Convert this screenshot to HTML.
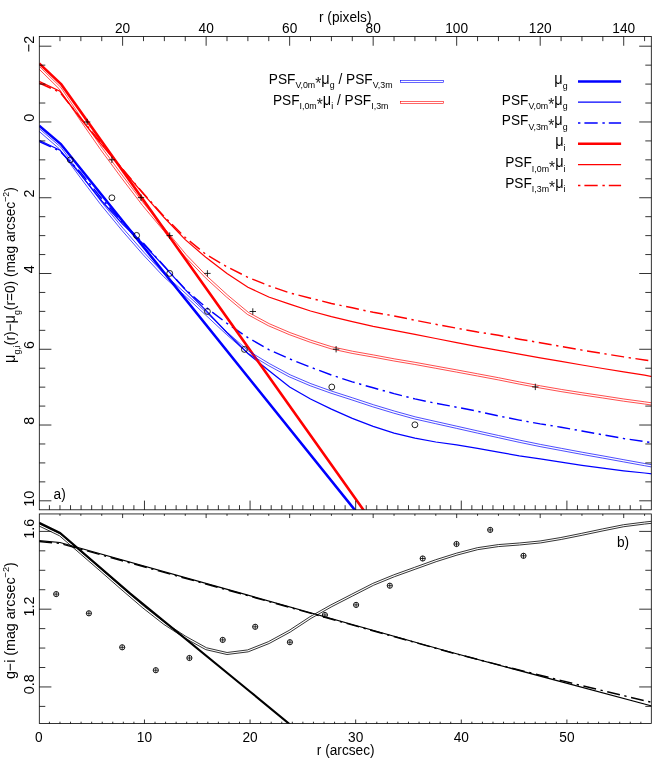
<!DOCTYPE html>
<html><head><meta charset="utf-8"><title>chart</title><style>html,body{margin:0;padding:0;background:#fff}svg{display:block;will-change:transform}</style></head><body>
<svg width="654" height="762" viewBox="0 0 654 762">
<rect width="654" height="762" fill="#fff"/>
<defs><clipPath id="c1"><rect x="39.3" y="36.55" width="612.0" height="473.25"/></clipPath><clipPath id="c2"><rect x="39.3" y="513.95" width="612.0" height="209.64999999999998"/></clipPath></defs>
<g clip-path="url(#c1)">
<path d="M39.20,125.70 L60.80,144.05 L362.00,518.89" fill="none" stroke="#0000ff" stroke-width="2.6" />
<path d="M39.10,140.20 L59.98,150.20 L80.86,174.80 L101.74,201.00 L122.62,224.10 L143.50,244.20 L164.37,266.60 L185.25,289.60 L206.13,310.60 L227.01,332.80 L247.89,353.50 L268.77,370.60 L289.65,387.00 L310.53,399.00 L331.41,409.10 L352.29,418.40 L373.16,426.40 L394.04,433.10 L414.92,438.10 L435.80,442.00 L456.68,444.80 L477.56,448.40 L498.44,452.10 L519.32,455.80 L540.20,458.90 L561.08,462.20 L581.95,465.40 L602.83,468.20 L623.71,470.80 L644.59,473.00 L665.47,475.50" fill="none" stroke="#0000ff" stroke-width="1.25" />
<path d="M39.10,141.40 L59.98,151.10 L80.86,172.80 L101.74,198.70 L122.62,222.40 L143.50,243.30 L164.37,266.30 L185.25,289.30 L206.13,307.50 L227.01,323.40 L247.89,337.60 L268.77,349.60 L289.65,358.90 L310.53,367.20 L331.41,375.00 L352.29,381.90 L373.16,387.80 L394.04,393.60 L414.92,398.90 L435.80,403.30 L456.68,407.20 L477.56,411.30 L498.44,415.90 L519.32,420.10 L540.20,423.90 L561.08,427.20 L581.95,431.00 L602.83,434.80 L623.71,438.50 L644.59,441.60 L665.47,444.60" fill="none" stroke="#0000ff" stroke-width="1.45" stroke-dasharray="13 4.6 2.3 4.6" />
<path d="M39.20,63.40 L61.30,84.40 L370.00,519.14" fill="none" stroke="#ff0000" stroke-width="2.6" />
<path d="M39.10,81.40 L59.98,91.30 L80.86,119.00 L101.74,144.80 L122.62,169.50 L143.50,194.10 L164.37,217.80 L185.25,239.60 L206.13,257.60 L227.01,273.40 L247.89,287.20 L268.77,297.00 L289.65,304.20 L310.53,311.00 L331.41,316.70 L352.29,321.70 L373.16,326.30 L394.04,330.40 L414.92,334.40 L435.80,338.50 L456.68,342.70 L477.56,346.60 L498.44,350.30 L519.32,354.20 L540.20,357.90 L561.08,361.40 L581.95,365.00 L602.83,368.50 L623.71,371.90 L644.59,375.20 L665.47,379.00" fill="none" stroke="#ff0000" stroke-width="1.25" />
<path d="M39.10,82.90 L59.98,92.40 L80.86,118.30 L101.74,143.70 L122.62,169.10 L143.50,193.50 L164.37,216.70 L185.25,237.50 L206.13,254.50 L227.01,266.80 L247.89,277.30 L268.77,285.70 L289.65,292.90 L310.53,298.20 L331.41,303.50 L352.29,307.80 L373.16,312.30 L394.04,315.90 L414.92,320.20 L435.80,324.30 L456.68,328.20 L477.56,332.00 L498.44,335.30 L519.32,339.20 L540.20,342.70 L561.08,346.40 L581.95,350.10 L602.83,353.50 L623.71,356.90 L644.59,360.00 L665.47,363.00" fill="none" stroke="#ff0000" stroke-width="1.45" stroke-dasharray="13 4.6 2.3 4.6" />
<path d="M38.38,130.73 L59.16,148.63 L79.98,177.16 L100.87,204.78 L121.78,230.21 L142.68,254.24 L163.60,276.58 L184.51,295.31 L205.38,314.80 L226.27,334.31 L247.23,352.78 L268.22,365.45 L289.17,376.79 L310.12,385.72 L331.05,393.24 L351.94,399.95 L372.83,406.85 L393.74,413.16 L414.65,418.97 L435.56,423.67 L456.44,428.37 L477.32,433.07 L498.20,437.67 L519.09,442.28 L539.98,446.58 L560.87,450.48 L581.76,454.38 L602.64,458.08 L623.52,461.88 L644.40,465.68 L665.28,469.38" fill="none" stroke="#0000ff" stroke-width="0.7" />
<path d="M39.82,129.07 L60.80,147.17 L81.74,175.84 L102.60,203.42 L123.46,228.79 L144.31,252.76 L165.14,275.02 L186.00,293.69 L206.88,313.20 L227.75,332.69 L248.55,351.02 L269.32,363.55 L290.13,374.81 L310.93,383.68 L331.76,391.16 L352.63,397.85 L373.50,404.75 L394.35,411.04 L415.19,416.83 L436.04,421.53 L456.92,426.23 L477.80,430.93 L498.67,435.53 L519.55,440.12 L540.41,444.42 L561.28,448.32 L582.15,452.22 L603.03,455.92 L623.91,459.72 L644.79,463.52 L665.66,467.22" fill="none" stroke="#0000ff" stroke-width="0.7" />
<path d="M38.33,68.38 L59.12,88.79 L79.95,119.92 L100.84,149.94 L121.74,178.26 L142.64,205.59 L163.53,230.60 L184.43,256.03 L205.36,277.69 L226.29,296.83 L247.27,314.31 L268.29,325.69 L289.24,334.62 L310.17,342.24 L331.12,348.86 L352.07,353.38 L372.97,357.08 L393.85,360.98 L414.73,364.48 L435.60,368.28 L456.48,372.08 L477.36,375.98 L498.23,379.88 L519.11,384.08 L540.00,387.98 L560.90,391.59 L581.79,394.89 L602.67,397.99 L623.56,401.19 L644.44,403.99 L665.31,407.09" fill="none" stroke="#ff0000" stroke-width="0.7" />
<path d="M39.87,66.82 L60.83,87.41 L81.77,118.68 L102.63,148.66 L123.50,176.94 L144.35,204.21 L165.22,229.20 L186.08,254.57 L206.90,276.11 L227.73,295.17 L248.51,312.49 L269.25,323.71 L290.05,332.58 L310.88,340.16 L331.69,346.74 L352.50,351.22 L373.36,354.92 L394.23,358.82 L415.11,362.32 L436.00,366.12 L456.88,369.92 L477.76,373.82 L498.65,377.72 L519.53,381.92 L540.39,385.82 L561.25,389.41 L582.12,392.71 L603.00,395.81 L623.87,399.01 L644.74,401.81 L665.63,404.91" fill="none" stroke="#ff0000" stroke-width="0.7" />
</g>
<g clip-path="url(#c2)">
<path d="M39.10,522.80 L60.00,533.00 L130.30,593.60 L250.20,691.70 L288.90,723.60 L295.00,728.60" fill="none" stroke="#000" stroke-width="2.1" />
<path d="M39.10,540.60 L60.00,542.50 L230.00,590.10 L450.00,652.00 L651.80,706.00" fill="none" stroke="#000" stroke-width="1.25" />
<path d="M39.10,541.50 L60.00,543.40 L230.00,590.70 L450.00,652.30 L510.00,667.70 L580.00,685.20 L651.80,702.40" fill="none" stroke="#000" stroke-width="1.45" stroke-dasharray="13 4.6 2.3 4.6" />
<path d="M38.67,525.80 L59.42,535.72 L80.20,553.68 L101.08,571.77 L121.96,590.06 L142.86,607.99 L163.79,624.35 L184.74,638.03 L205.77,649.64 L226.96,654.50 L248.14,651.85 L269.19,643.50 L290.16,632.11 L311.05,618.38 L331.88,606.62 L352.74,595.93 L373.58,585.24 L394.40,576.73 L415.26,569.21 L436.12,561.70 L456.96,555.12 L477.76,549.65 L498.55,546.57 L519.40,545.00 L540.33,542.96 L561.26,539.46 L582.16,535.27 L603.03,530.86 L623.87,526.68 L644.71,524.06 L665.58,521.75" fill="none" stroke="#000" stroke-width="0.8" />
<path d="M39.53,524.00 L60.54,534.06 L81.51,552.17 L102.39,570.26 L123.27,588.54 L144.13,606.44 L164.96,622.73 L185.77,636.32 L206.50,647.78 L227.06,652.50 L247.64,649.92 L268.34,641.69 L289.13,630.39 L310.01,616.68 L330.93,604.86 L351.83,594.15 L372.75,583.43 L393.68,574.87 L414.58,567.33 L435.48,559.81 L456.40,553.19 L477.36,547.69 L498.33,544.59 L519.23,543.01 L540.06,540.97 L560.89,537.50 L581.75,533.31 L602.63,528.90 L623.55,524.71 L644.47,522.08 L665.36,519.77" fill="none" stroke="#000" stroke-width="0.8" />
</g>
<line x1="83.90" y1="122.00" x2="90.30" y2="122.00" stroke="#000" stroke-width="0.85"/>
<line x1="87.10" y1="118.80" x2="87.10" y2="125.20" stroke="#000" stroke-width="0.85"/>
<line x1="108.70" y1="159.80" x2="115.10" y2="159.80" stroke="#000" stroke-width="0.85"/>
<line x1="111.90" y1="156.60" x2="111.90" y2="163.00" stroke="#000" stroke-width="0.85"/>
<line x1="137.80" y1="197.60" x2="144.20" y2="197.60" stroke="#000" stroke-width="0.85"/>
<line x1="141.00" y1="194.40" x2="141.00" y2="200.80" stroke="#000" stroke-width="0.85"/>
<line x1="166.50" y1="235.60" x2="172.90" y2="235.60" stroke="#000" stroke-width="0.85"/>
<line x1="169.70" y1="232.40" x2="169.70" y2="238.80" stroke="#000" stroke-width="0.85"/>
<line x1="204.20" y1="273.40" x2="210.60" y2="273.40" stroke="#000" stroke-width="0.85"/>
<line x1="207.40" y1="270.20" x2="207.40" y2="276.60" stroke="#000" stroke-width="0.85"/>
<line x1="249.60" y1="311.50" x2="256.00" y2="311.50" stroke="#000" stroke-width="0.85"/>
<line x1="252.80" y1="308.30" x2="252.80" y2="314.70" stroke="#000" stroke-width="0.85"/>
<line x1="332.90" y1="349.20" x2="339.30" y2="349.20" stroke="#000" stroke-width="0.85"/>
<line x1="336.10" y1="346.00" x2="336.10" y2="352.40" stroke="#000" stroke-width="0.85"/>
<line x1="532.10" y1="386.90" x2="538.50" y2="386.90" stroke="#000" stroke-width="0.85"/>
<line x1="535.30" y1="383.70" x2="535.30" y2="390.10" stroke="#000" stroke-width="0.85"/>
<circle cx="70.3" cy="159.8" r="2.95" fill="none" stroke="#000" stroke-width="0.85"/>
<circle cx="111.9" cy="197.8" r="2.95" fill="none" stroke="#000" stroke-width="0.85"/>
<circle cx="136.6" cy="235.4" r="2.95" fill="none" stroke="#000" stroke-width="0.85"/>
<circle cx="169.7" cy="273.4" r="2.95" fill="none" stroke="#000" stroke-width="0.85"/>
<circle cx="207.4" cy="311.5" r="2.95" fill="none" stroke="#000" stroke-width="0.85"/>
<circle cx="244.4" cy="349.4" r="2.95" fill="none" stroke="#000" stroke-width="0.85"/>
<circle cx="331.8" cy="387" r="2.95" fill="none" stroke="#000" stroke-width="0.85"/>
<circle cx="414.9" cy="424.8" r="2.95" fill="none" stroke="#000" stroke-width="0.85"/>
<circle cx="56.2" cy="594.1" r="2.6" fill="none" stroke="#000" stroke-width="0.9"/>
<line x1="53.60" y1="594.10" x2="58.80" y2="594.10" stroke="#000" stroke-width="0.8"/>
<line x1="56.20" y1="591.50" x2="56.20" y2="596.70" stroke="#000" stroke-width="0.8"/>
<circle cx="88.9" cy="613.3" r="2.6" fill="none" stroke="#000" stroke-width="0.9"/>
<line x1="86.30" y1="613.30" x2="91.50" y2="613.30" stroke="#000" stroke-width="0.8"/>
<line x1="88.90" y1="610.70" x2="88.90" y2="615.90" stroke="#000" stroke-width="0.8"/>
<circle cx="122.2" cy="647.3" r="2.6" fill="none" stroke="#000" stroke-width="0.9"/>
<line x1="119.60" y1="647.30" x2="124.80" y2="647.30" stroke="#000" stroke-width="0.8"/>
<line x1="122.20" y1="644.70" x2="122.20" y2="649.90" stroke="#000" stroke-width="0.8"/>
<circle cx="155.8" cy="670.2" r="2.6" fill="none" stroke="#000" stroke-width="0.9"/>
<line x1="153.20" y1="670.20" x2="158.40" y2="670.20" stroke="#000" stroke-width="0.8"/>
<line x1="155.80" y1="667.60" x2="155.80" y2="672.80" stroke="#000" stroke-width="0.8"/>
<circle cx="189.4" cy="658" r="2.6" fill="none" stroke="#000" stroke-width="0.9"/>
<line x1="186.80" y1="658.00" x2="192.00" y2="658.00" stroke="#000" stroke-width="0.8"/>
<line x1="189.40" y1="655.40" x2="189.40" y2="660.60" stroke="#000" stroke-width="0.8"/>
<circle cx="222.7" cy="639.9" r="2.6" fill="none" stroke="#000" stroke-width="0.9"/>
<line x1="220.10" y1="639.90" x2="225.30" y2="639.90" stroke="#000" stroke-width="0.8"/>
<line x1="222.70" y1="637.30" x2="222.70" y2="642.50" stroke="#000" stroke-width="0.8"/>
<circle cx="255.2" cy="626.8" r="2.6" fill="none" stroke="#000" stroke-width="0.9"/>
<line x1="252.60" y1="626.80" x2="257.80" y2="626.80" stroke="#000" stroke-width="0.8"/>
<line x1="255.20" y1="624.20" x2="255.20" y2="629.40" stroke="#000" stroke-width="0.8"/>
<circle cx="289.9" cy="642.2" r="2.6" fill="none" stroke="#000" stroke-width="0.9"/>
<line x1="287.30" y1="642.20" x2="292.50" y2="642.20" stroke="#000" stroke-width="0.8"/>
<line x1="289.90" y1="639.60" x2="289.90" y2="644.80" stroke="#000" stroke-width="0.8"/>
<circle cx="324.9" cy="615" r="2.6" fill="none" stroke="#000" stroke-width="0.9"/>
<line x1="322.30" y1="615.00" x2="327.50" y2="615.00" stroke="#000" stroke-width="0.8"/>
<line x1="324.90" y1="612.40" x2="324.90" y2="617.60" stroke="#000" stroke-width="0.8"/>
<circle cx="356.1" cy="604.9" r="2.6" fill="none" stroke="#000" stroke-width="0.9"/>
<line x1="353.50" y1="604.90" x2="358.70" y2="604.90" stroke="#000" stroke-width="0.8"/>
<line x1="356.10" y1="602.30" x2="356.10" y2="607.50" stroke="#000" stroke-width="0.8"/>
<circle cx="389.8" cy="585.7" r="2.6" fill="none" stroke="#000" stroke-width="0.9"/>
<line x1="387.20" y1="585.70" x2="392.40" y2="585.70" stroke="#000" stroke-width="0.8"/>
<line x1="389.80" y1="583.10" x2="389.80" y2="588.30" stroke="#000" stroke-width="0.8"/>
<circle cx="422.7" cy="558.5" r="2.6" fill="none" stroke="#000" stroke-width="0.9"/>
<line x1="420.10" y1="558.50" x2="425.30" y2="558.50" stroke="#000" stroke-width="0.8"/>
<line x1="422.70" y1="555.90" x2="422.70" y2="561.10" stroke="#000" stroke-width="0.8"/>
<circle cx="456.5" cy="544" r="2.6" fill="none" stroke="#000" stroke-width="0.9"/>
<line x1="453.90" y1="544.00" x2="459.10" y2="544.00" stroke="#000" stroke-width="0.8"/>
<line x1="456.50" y1="541.40" x2="456.50" y2="546.60" stroke="#000" stroke-width="0.8"/>
<circle cx="490.2" cy="529.9" r="2.6" fill="none" stroke="#000" stroke-width="0.9"/>
<line x1="487.60" y1="529.90" x2="492.80" y2="529.90" stroke="#000" stroke-width="0.8"/>
<line x1="490.20" y1="527.30" x2="490.20" y2="532.50" stroke="#000" stroke-width="0.8"/>
<circle cx="523.5" cy="555.8" r="2.6" fill="none" stroke="#000" stroke-width="0.9"/>
<line x1="520.90" y1="555.80" x2="526.10" y2="555.80" stroke="#000" stroke-width="0.8"/>
<line x1="523.50" y1="553.20" x2="523.50" y2="558.40" stroke="#000" stroke-width="0.8"/>
<rect x="39.3" y="36.55" width="612.0" height="473.25" fill="none" stroke="#000" stroke-width="0.8"/>
<rect x="39.3" y="513.95" width="612.0" height="209.64999999999998" fill="none" stroke="#000" stroke-width="0.8"/>
<line x1="59.98" y1="36.55" x2="59.98" y2="41.15" stroke="#000" stroke-width="0.8"/>
<line x1="80.86" y1="36.55" x2="80.86" y2="41.15" stroke="#000" stroke-width="0.8"/>
<line x1="101.74" y1="36.55" x2="101.74" y2="41.15" stroke="#000" stroke-width="0.8"/>
<line x1="122.62" y1="36.55" x2="122.62" y2="45.75" stroke="#000" stroke-width="0.8"/>
<line x1="143.50" y1="36.55" x2="143.50" y2="41.15" stroke="#000" stroke-width="0.8"/>
<line x1="164.37" y1="36.55" x2="164.37" y2="41.15" stroke="#000" stroke-width="0.8"/>
<line x1="185.25" y1="36.55" x2="185.25" y2="41.15" stroke="#000" stroke-width="0.8"/>
<line x1="206.13" y1="36.55" x2="206.13" y2="45.75" stroke="#000" stroke-width="0.8"/>
<line x1="227.01" y1="36.55" x2="227.01" y2="41.15" stroke="#000" stroke-width="0.8"/>
<line x1="247.89" y1="36.55" x2="247.89" y2="41.15" stroke="#000" stroke-width="0.8"/>
<line x1="268.77" y1="36.55" x2="268.77" y2="41.15" stroke="#000" stroke-width="0.8"/>
<line x1="289.65" y1="36.55" x2="289.65" y2="45.75" stroke="#000" stroke-width="0.8"/>
<line x1="310.53" y1="36.55" x2="310.53" y2="41.15" stroke="#000" stroke-width="0.8"/>
<line x1="331.41" y1="36.55" x2="331.41" y2="41.15" stroke="#000" stroke-width="0.8"/>
<line x1="352.29" y1="36.55" x2="352.29" y2="41.15" stroke="#000" stroke-width="0.8"/>
<line x1="373.16" y1="36.55" x2="373.16" y2="45.75" stroke="#000" stroke-width="0.8"/>
<line x1="394.04" y1="36.55" x2="394.04" y2="41.15" stroke="#000" stroke-width="0.8"/>
<line x1="414.92" y1="36.55" x2="414.92" y2="41.15" stroke="#000" stroke-width="0.8"/>
<line x1="435.80" y1="36.55" x2="435.80" y2="41.15" stroke="#000" stroke-width="0.8"/>
<line x1="456.68" y1="36.55" x2="456.68" y2="45.75" stroke="#000" stroke-width="0.8"/>
<line x1="477.56" y1="36.55" x2="477.56" y2="41.15" stroke="#000" stroke-width="0.8"/>
<line x1="498.44" y1="36.55" x2="498.44" y2="41.15" stroke="#000" stroke-width="0.8"/>
<line x1="519.32" y1="36.55" x2="519.32" y2="41.15" stroke="#000" stroke-width="0.8"/>
<line x1="540.20" y1="36.55" x2="540.20" y2="45.75" stroke="#000" stroke-width="0.8"/>
<line x1="561.08" y1="36.55" x2="561.08" y2="41.15" stroke="#000" stroke-width="0.8"/>
<line x1="581.95" y1="36.55" x2="581.95" y2="41.15" stroke="#000" stroke-width="0.8"/>
<line x1="602.83" y1="36.55" x2="602.83" y2="41.15" stroke="#000" stroke-width="0.8"/>
<line x1="623.71" y1="36.55" x2="623.71" y2="45.75" stroke="#000" stroke-width="0.8"/>
<line x1="644.59" y1="36.55" x2="644.59" y2="41.15" stroke="#000" stroke-width="0.8"/>
<line x1="49.41" y1="509.80" x2="49.41" y2="505.20" stroke="#000" stroke-width="0.8"/>
<line x1="59.97" y1="509.80" x2="59.97" y2="505.20" stroke="#000" stroke-width="0.8"/>
<line x1="70.53" y1="509.80" x2="70.53" y2="505.20" stroke="#000" stroke-width="0.8"/>
<line x1="81.09" y1="509.80" x2="81.09" y2="505.20" stroke="#000" stroke-width="0.8"/>
<line x1="91.66" y1="509.80" x2="91.66" y2="505.20" stroke="#000" stroke-width="0.8"/>
<line x1="102.22" y1="509.80" x2="102.22" y2="505.20" stroke="#000" stroke-width="0.8"/>
<line x1="112.78" y1="509.80" x2="112.78" y2="505.20" stroke="#000" stroke-width="0.8"/>
<line x1="123.34" y1="509.80" x2="123.34" y2="505.20" stroke="#000" stroke-width="0.8"/>
<line x1="133.90" y1="509.80" x2="133.90" y2="505.20" stroke="#000" stroke-width="0.8"/>
<line x1="144.46" y1="509.80" x2="144.46" y2="500.60" stroke="#000" stroke-width="0.8"/>
<line x1="155.02" y1="509.80" x2="155.02" y2="505.20" stroke="#000" stroke-width="0.8"/>
<line x1="165.58" y1="509.80" x2="165.58" y2="505.20" stroke="#000" stroke-width="0.8"/>
<line x1="176.14" y1="509.80" x2="176.14" y2="505.20" stroke="#000" stroke-width="0.8"/>
<line x1="186.70" y1="509.80" x2="186.70" y2="505.20" stroke="#000" stroke-width="0.8"/>
<line x1="197.26" y1="509.80" x2="197.26" y2="505.20" stroke="#000" stroke-width="0.8"/>
<line x1="207.83" y1="509.80" x2="207.83" y2="505.20" stroke="#000" stroke-width="0.8"/>
<line x1="218.39" y1="509.80" x2="218.39" y2="505.20" stroke="#000" stroke-width="0.8"/>
<line x1="228.95" y1="509.80" x2="228.95" y2="505.20" stroke="#000" stroke-width="0.8"/>
<line x1="239.51" y1="509.80" x2="239.51" y2="505.20" stroke="#000" stroke-width="0.8"/>
<line x1="250.07" y1="509.80" x2="250.07" y2="500.60" stroke="#000" stroke-width="0.8"/>
<line x1="260.63" y1="509.80" x2="260.63" y2="505.20" stroke="#000" stroke-width="0.8"/>
<line x1="271.19" y1="509.80" x2="271.19" y2="505.20" stroke="#000" stroke-width="0.8"/>
<line x1="281.75" y1="509.80" x2="281.75" y2="505.20" stroke="#000" stroke-width="0.8"/>
<line x1="292.31" y1="509.80" x2="292.31" y2="505.20" stroke="#000" stroke-width="0.8"/>
<line x1="302.88" y1="509.80" x2="302.88" y2="505.20" stroke="#000" stroke-width="0.8"/>
<line x1="313.44" y1="509.80" x2="313.44" y2="505.20" stroke="#000" stroke-width="0.8"/>
<line x1="324.00" y1="509.80" x2="324.00" y2="505.20" stroke="#000" stroke-width="0.8"/>
<line x1="334.56" y1="509.80" x2="334.56" y2="505.20" stroke="#000" stroke-width="0.8"/>
<line x1="345.12" y1="509.80" x2="345.12" y2="505.20" stroke="#000" stroke-width="0.8"/>
<line x1="355.68" y1="509.80" x2="355.68" y2="500.60" stroke="#000" stroke-width="0.8"/>
<line x1="366.24" y1="509.80" x2="366.24" y2="505.20" stroke="#000" stroke-width="0.8"/>
<line x1="376.80" y1="509.80" x2="376.80" y2="505.20" stroke="#000" stroke-width="0.8"/>
<line x1="387.36" y1="509.80" x2="387.36" y2="505.20" stroke="#000" stroke-width="0.8"/>
<line x1="397.92" y1="509.80" x2="397.92" y2="505.20" stroke="#000" stroke-width="0.8"/>
<line x1="408.49" y1="509.80" x2="408.49" y2="505.20" stroke="#000" stroke-width="0.8"/>
<line x1="419.05" y1="509.80" x2="419.05" y2="505.20" stroke="#000" stroke-width="0.8"/>
<line x1="429.61" y1="509.80" x2="429.61" y2="505.20" stroke="#000" stroke-width="0.8"/>
<line x1="440.17" y1="509.80" x2="440.17" y2="505.20" stroke="#000" stroke-width="0.8"/>
<line x1="450.73" y1="509.80" x2="450.73" y2="505.20" stroke="#000" stroke-width="0.8"/>
<line x1="461.29" y1="509.80" x2="461.29" y2="500.60" stroke="#000" stroke-width="0.8"/>
<line x1="471.85" y1="509.80" x2="471.85" y2="505.20" stroke="#000" stroke-width="0.8"/>
<line x1="482.41" y1="509.80" x2="482.41" y2="505.20" stroke="#000" stroke-width="0.8"/>
<line x1="492.97" y1="509.80" x2="492.97" y2="505.20" stroke="#000" stroke-width="0.8"/>
<line x1="503.53" y1="509.80" x2="503.53" y2="505.20" stroke="#000" stroke-width="0.8"/>
<line x1="514.10" y1="509.80" x2="514.10" y2="505.20" stroke="#000" stroke-width="0.8"/>
<line x1="524.66" y1="509.80" x2="524.66" y2="505.20" stroke="#000" stroke-width="0.8"/>
<line x1="535.22" y1="509.80" x2="535.22" y2="505.20" stroke="#000" stroke-width="0.8"/>
<line x1="545.78" y1="509.80" x2="545.78" y2="505.20" stroke="#000" stroke-width="0.8"/>
<line x1="556.34" y1="509.80" x2="556.34" y2="505.20" stroke="#000" stroke-width="0.8"/>
<line x1="566.90" y1="509.80" x2="566.90" y2="500.60" stroke="#000" stroke-width="0.8"/>
<line x1="577.46" y1="509.80" x2="577.46" y2="505.20" stroke="#000" stroke-width="0.8"/>
<line x1="588.02" y1="509.80" x2="588.02" y2="505.20" stroke="#000" stroke-width="0.8"/>
<line x1="598.58" y1="509.80" x2="598.58" y2="505.20" stroke="#000" stroke-width="0.8"/>
<line x1="609.14" y1="509.80" x2="609.14" y2="505.20" stroke="#000" stroke-width="0.8"/>
<line x1="619.71" y1="509.80" x2="619.71" y2="505.20" stroke="#000" stroke-width="0.8"/>
<line x1="630.27" y1="509.80" x2="630.27" y2="505.20" stroke="#000" stroke-width="0.8"/>
<line x1="640.83" y1="509.80" x2="640.83" y2="505.20" stroke="#000" stroke-width="0.8"/>
<line x1="59.98" y1="513.95" x2="59.98" y2="515.85" stroke="#000" stroke-width="0.8"/>
<line x1="80.86" y1="513.95" x2="80.86" y2="515.85" stroke="#000" stroke-width="0.8"/>
<line x1="101.74" y1="513.95" x2="101.74" y2="515.85" stroke="#000" stroke-width="0.8"/>
<line x1="122.62" y1="513.95" x2="122.62" y2="518.05" stroke="#000" stroke-width="0.8"/>
<line x1="143.50" y1="513.95" x2="143.50" y2="515.85" stroke="#000" stroke-width="0.8"/>
<line x1="164.37" y1="513.95" x2="164.37" y2="515.85" stroke="#000" stroke-width="0.8"/>
<line x1="185.25" y1="513.95" x2="185.25" y2="515.85" stroke="#000" stroke-width="0.8"/>
<line x1="206.13" y1="513.95" x2="206.13" y2="518.05" stroke="#000" stroke-width="0.8"/>
<line x1="227.01" y1="513.95" x2="227.01" y2="515.85" stroke="#000" stroke-width="0.8"/>
<line x1="247.89" y1="513.95" x2="247.89" y2="515.85" stroke="#000" stroke-width="0.8"/>
<line x1="268.77" y1="513.95" x2="268.77" y2="515.85" stroke="#000" stroke-width="0.8"/>
<line x1="289.65" y1="513.95" x2="289.65" y2="518.05" stroke="#000" stroke-width="0.8"/>
<line x1="310.53" y1="513.95" x2="310.53" y2="515.85" stroke="#000" stroke-width="0.8"/>
<line x1="331.41" y1="513.95" x2="331.41" y2="515.85" stroke="#000" stroke-width="0.8"/>
<line x1="352.29" y1="513.95" x2="352.29" y2="515.85" stroke="#000" stroke-width="0.8"/>
<line x1="373.16" y1="513.95" x2="373.16" y2="518.05" stroke="#000" stroke-width="0.8"/>
<line x1="394.04" y1="513.95" x2="394.04" y2="515.85" stroke="#000" stroke-width="0.8"/>
<line x1="414.92" y1="513.95" x2="414.92" y2="515.85" stroke="#000" stroke-width="0.8"/>
<line x1="435.80" y1="513.95" x2="435.80" y2="515.85" stroke="#000" stroke-width="0.8"/>
<line x1="456.68" y1="513.95" x2="456.68" y2="518.05" stroke="#000" stroke-width="0.8"/>
<line x1="477.56" y1="513.95" x2="477.56" y2="515.85" stroke="#000" stroke-width="0.8"/>
<line x1="498.44" y1="513.95" x2="498.44" y2="515.85" stroke="#000" stroke-width="0.8"/>
<line x1="519.32" y1="513.95" x2="519.32" y2="515.85" stroke="#000" stroke-width="0.8"/>
<line x1="540.20" y1="513.95" x2="540.20" y2="518.05" stroke="#000" stroke-width="0.8"/>
<line x1="561.08" y1="513.95" x2="561.08" y2="515.85" stroke="#000" stroke-width="0.8"/>
<line x1="581.95" y1="513.95" x2="581.95" y2="515.85" stroke="#000" stroke-width="0.8"/>
<line x1="602.83" y1="513.95" x2="602.83" y2="515.85" stroke="#000" stroke-width="0.8"/>
<line x1="623.71" y1="513.95" x2="623.71" y2="518.05" stroke="#000" stroke-width="0.8"/>
<line x1="644.59" y1="513.95" x2="644.59" y2="515.85" stroke="#000" stroke-width="0.8"/>
<line x1="49.41" y1="723.60" x2="49.41" y2="721.70" stroke="#000" stroke-width="0.8"/>
<line x1="59.97" y1="723.60" x2="59.97" y2="721.70" stroke="#000" stroke-width="0.8"/>
<line x1="70.53" y1="723.60" x2="70.53" y2="721.70" stroke="#000" stroke-width="0.8"/>
<line x1="81.09" y1="723.60" x2="81.09" y2="721.70" stroke="#000" stroke-width="0.8"/>
<line x1="91.66" y1="723.60" x2="91.66" y2="721.70" stroke="#000" stroke-width="0.8"/>
<line x1="102.22" y1="723.60" x2="102.22" y2="721.70" stroke="#000" stroke-width="0.8"/>
<line x1="112.78" y1="723.60" x2="112.78" y2="721.70" stroke="#000" stroke-width="0.8"/>
<line x1="123.34" y1="723.60" x2="123.34" y2="721.70" stroke="#000" stroke-width="0.8"/>
<line x1="133.90" y1="723.60" x2="133.90" y2="721.70" stroke="#000" stroke-width="0.8"/>
<line x1="144.46" y1="723.60" x2="144.46" y2="719.50" stroke="#000" stroke-width="0.8"/>
<line x1="155.02" y1="723.60" x2="155.02" y2="721.70" stroke="#000" stroke-width="0.8"/>
<line x1="165.58" y1="723.60" x2="165.58" y2="721.70" stroke="#000" stroke-width="0.8"/>
<line x1="176.14" y1="723.60" x2="176.14" y2="721.70" stroke="#000" stroke-width="0.8"/>
<line x1="186.70" y1="723.60" x2="186.70" y2="721.70" stroke="#000" stroke-width="0.8"/>
<line x1="197.26" y1="723.60" x2="197.26" y2="721.70" stroke="#000" stroke-width="0.8"/>
<line x1="207.83" y1="723.60" x2="207.83" y2="721.70" stroke="#000" stroke-width="0.8"/>
<line x1="218.39" y1="723.60" x2="218.39" y2="721.70" stroke="#000" stroke-width="0.8"/>
<line x1="228.95" y1="723.60" x2="228.95" y2="721.70" stroke="#000" stroke-width="0.8"/>
<line x1="239.51" y1="723.60" x2="239.51" y2="721.70" stroke="#000" stroke-width="0.8"/>
<line x1="250.07" y1="723.60" x2="250.07" y2="719.50" stroke="#000" stroke-width="0.8"/>
<line x1="260.63" y1="723.60" x2="260.63" y2="721.70" stroke="#000" stroke-width="0.8"/>
<line x1="271.19" y1="723.60" x2="271.19" y2="721.70" stroke="#000" stroke-width="0.8"/>
<line x1="281.75" y1="723.60" x2="281.75" y2="721.70" stroke="#000" stroke-width="0.8"/>
<line x1="292.31" y1="723.60" x2="292.31" y2="721.70" stroke="#000" stroke-width="0.8"/>
<line x1="302.88" y1="723.60" x2="302.88" y2="721.70" stroke="#000" stroke-width="0.8"/>
<line x1="313.44" y1="723.60" x2="313.44" y2="721.70" stroke="#000" stroke-width="0.8"/>
<line x1="324.00" y1="723.60" x2="324.00" y2="721.70" stroke="#000" stroke-width="0.8"/>
<line x1="334.56" y1="723.60" x2="334.56" y2="721.70" stroke="#000" stroke-width="0.8"/>
<line x1="345.12" y1="723.60" x2="345.12" y2="721.70" stroke="#000" stroke-width="0.8"/>
<line x1="355.68" y1="723.60" x2="355.68" y2="719.50" stroke="#000" stroke-width="0.8"/>
<line x1="366.24" y1="723.60" x2="366.24" y2="721.70" stroke="#000" stroke-width="0.8"/>
<line x1="376.80" y1="723.60" x2="376.80" y2="721.70" stroke="#000" stroke-width="0.8"/>
<line x1="387.36" y1="723.60" x2="387.36" y2="721.70" stroke="#000" stroke-width="0.8"/>
<line x1="397.92" y1="723.60" x2="397.92" y2="721.70" stroke="#000" stroke-width="0.8"/>
<line x1="408.49" y1="723.60" x2="408.49" y2="721.70" stroke="#000" stroke-width="0.8"/>
<line x1="419.05" y1="723.60" x2="419.05" y2="721.70" stroke="#000" stroke-width="0.8"/>
<line x1="429.61" y1="723.60" x2="429.61" y2="721.70" stroke="#000" stroke-width="0.8"/>
<line x1="440.17" y1="723.60" x2="440.17" y2="721.70" stroke="#000" stroke-width="0.8"/>
<line x1="450.73" y1="723.60" x2="450.73" y2="721.70" stroke="#000" stroke-width="0.8"/>
<line x1="461.29" y1="723.60" x2="461.29" y2="719.50" stroke="#000" stroke-width="0.8"/>
<line x1="471.85" y1="723.60" x2="471.85" y2="721.70" stroke="#000" stroke-width="0.8"/>
<line x1="482.41" y1="723.60" x2="482.41" y2="721.70" stroke="#000" stroke-width="0.8"/>
<line x1="492.97" y1="723.60" x2="492.97" y2="721.70" stroke="#000" stroke-width="0.8"/>
<line x1="503.53" y1="723.60" x2="503.53" y2="721.70" stroke="#000" stroke-width="0.8"/>
<line x1="514.10" y1="723.60" x2="514.10" y2="721.70" stroke="#000" stroke-width="0.8"/>
<line x1="524.66" y1="723.60" x2="524.66" y2="721.70" stroke="#000" stroke-width="0.8"/>
<line x1="535.22" y1="723.60" x2="535.22" y2="721.70" stroke="#000" stroke-width="0.8"/>
<line x1="545.78" y1="723.60" x2="545.78" y2="721.70" stroke="#000" stroke-width="0.8"/>
<line x1="556.34" y1="723.60" x2="556.34" y2="721.70" stroke="#000" stroke-width="0.8"/>
<line x1="566.90" y1="723.60" x2="566.90" y2="719.50" stroke="#000" stroke-width="0.8"/>
<line x1="577.46" y1="723.60" x2="577.46" y2="721.70" stroke="#000" stroke-width="0.8"/>
<line x1="588.02" y1="723.60" x2="588.02" y2="721.70" stroke="#000" stroke-width="0.8"/>
<line x1="598.58" y1="723.60" x2="598.58" y2="721.70" stroke="#000" stroke-width="0.8"/>
<line x1="609.14" y1="723.60" x2="609.14" y2="721.70" stroke="#000" stroke-width="0.8"/>
<line x1="619.71" y1="723.60" x2="619.71" y2="721.70" stroke="#000" stroke-width="0.8"/>
<line x1="630.27" y1="723.60" x2="630.27" y2="721.70" stroke="#000" stroke-width="0.8"/>
<line x1="640.83" y1="723.60" x2="640.83" y2="721.70" stroke="#000" stroke-width="0.8"/>
<line x1="39.30" y1="46.20" x2="51.40" y2="46.20" stroke="#000" stroke-width="0.8"/>
<line x1="651.30" y1="46.20" x2="639.20" y2="46.20" stroke="#000" stroke-width="0.8"/>
<line x1="39.30" y1="65.15" x2="45.30" y2="65.15" stroke="#000" stroke-width="0.8"/>
<line x1="651.30" y1="65.15" x2="645.30" y2="65.15" stroke="#000" stroke-width="0.8"/>
<line x1="39.30" y1="84.09" x2="45.30" y2="84.09" stroke="#000" stroke-width="0.8"/>
<line x1="651.30" y1="84.09" x2="645.30" y2="84.09" stroke="#000" stroke-width="0.8"/>
<line x1="39.30" y1="103.03" x2="45.30" y2="103.03" stroke="#000" stroke-width="0.8"/>
<line x1="651.30" y1="103.03" x2="645.30" y2="103.03" stroke="#000" stroke-width="0.8"/>
<line x1="39.30" y1="121.97" x2="51.40" y2="121.97" stroke="#000" stroke-width="0.8"/>
<line x1="651.30" y1="121.97" x2="639.20" y2="121.97" stroke="#000" stroke-width="0.8"/>
<line x1="39.30" y1="140.91" x2="45.30" y2="140.91" stroke="#000" stroke-width="0.8"/>
<line x1="651.30" y1="140.91" x2="645.30" y2="140.91" stroke="#000" stroke-width="0.8"/>
<line x1="39.30" y1="159.85" x2="45.30" y2="159.85" stroke="#000" stroke-width="0.8"/>
<line x1="651.30" y1="159.85" x2="645.30" y2="159.85" stroke="#000" stroke-width="0.8"/>
<line x1="39.30" y1="178.79" x2="45.30" y2="178.79" stroke="#000" stroke-width="0.8"/>
<line x1="651.30" y1="178.79" x2="645.30" y2="178.79" stroke="#000" stroke-width="0.8"/>
<line x1="39.30" y1="197.74" x2="51.40" y2="197.74" stroke="#000" stroke-width="0.8"/>
<line x1="651.30" y1="197.74" x2="639.20" y2="197.74" stroke="#000" stroke-width="0.8"/>
<line x1="39.30" y1="216.68" x2="45.30" y2="216.68" stroke="#000" stroke-width="0.8"/>
<line x1="651.30" y1="216.68" x2="645.30" y2="216.68" stroke="#000" stroke-width="0.8"/>
<line x1="39.30" y1="235.62" x2="45.30" y2="235.62" stroke="#000" stroke-width="0.8"/>
<line x1="651.30" y1="235.62" x2="645.30" y2="235.62" stroke="#000" stroke-width="0.8"/>
<line x1="39.30" y1="254.56" x2="45.30" y2="254.56" stroke="#000" stroke-width="0.8"/>
<line x1="651.30" y1="254.56" x2="645.30" y2="254.56" stroke="#000" stroke-width="0.8"/>
<line x1="39.30" y1="273.50" x2="51.40" y2="273.50" stroke="#000" stroke-width="0.8"/>
<line x1="651.30" y1="273.50" x2="639.20" y2="273.50" stroke="#000" stroke-width="0.8"/>
<line x1="39.30" y1="292.44" x2="45.30" y2="292.44" stroke="#000" stroke-width="0.8"/>
<line x1="651.30" y1="292.44" x2="645.30" y2="292.44" stroke="#000" stroke-width="0.8"/>
<line x1="39.30" y1="311.38" x2="45.30" y2="311.38" stroke="#000" stroke-width="0.8"/>
<line x1="651.30" y1="311.38" x2="645.30" y2="311.38" stroke="#000" stroke-width="0.8"/>
<line x1="39.30" y1="330.33" x2="45.30" y2="330.33" stroke="#000" stroke-width="0.8"/>
<line x1="651.30" y1="330.33" x2="645.30" y2="330.33" stroke="#000" stroke-width="0.8"/>
<line x1="39.30" y1="349.27" x2="51.40" y2="349.27" stroke="#000" stroke-width="0.8"/>
<line x1="651.30" y1="349.27" x2="639.20" y2="349.27" stroke="#000" stroke-width="0.8"/>
<line x1="39.30" y1="368.21" x2="45.30" y2="368.21" stroke="#000" stroke-width="0.8"/>
<line x1="651.30" y1="368.21" x2="645.30" y2="368.21" stroke="#000" stroke-width="0.8"/>
<line x1="39.30" y1="387.15" x2="45.30" y2="387.15" stroke="#000" stroke-width="0.8"/>
<line x1="651.30" y1="387.15" x2="645.30" y2="387.15" stroke="#000" stroke-width="0.8"/>
<line x1="39.30" y1="406.09" x2="45.30" y2="406.09" stroke="#000" stroke-width="0.8"/>
<line x1="651.30" y1="406.09" x2="645.30" y2="406.09" stroke="#000" stroke-width="0.8"/>
<line x1="39.30" y1="425.03" x2="51.40" y2="425.03" stroke="#000" stroke-width="0.8"/>
<line x1="651.30" y1="425.03" x2="639.20" y2="425.03" stroke="#000" stroke-width="0.8"/>
<line x1="39.30" y1="443.98" x2="45.30" y2="443.98" stroke="#000" stroke-width="0.8"/>
<line x1="651.30" y1="443.98" x2="645.30" y2="443.98" stroke="#000" stroke-width="0.8"/>
<line x1="39.30" y1="462.92" x2="45.30" y2="462.92" stroke="#000" stroke-width="0.8"/>
<line x1="651.30" y1="462.92" x2="645.30" y2="462.92" stroke="#000" stroke-width="0.8"/>
<line x1="39.30" y1="481.86" x2="45.30" y2="481.86" stroke="#000" stroke-width="0.8"/>
<line x1="651.30" y1="481.86" x2="645.30" y2="481.86" stroke="#000" stroke-width="0.8"/>
<line x1="39.30" y1="500.80" x2="51.40" y2="500.80" stroke="#000" stroke-width="0.8"/>
<line x1="651.30" y1="500.80" x2="639.20" y2="500.80" stroke="#000" stroke-width="0.8"/>
<line x1="39.30" y1="706.40" x2="45.30" y2="706.40" stroke="#000" stroke-width="0.8"/>
<line x1="651.30" y1="706.40" x2="645.30" y2="706.40" stroke="#000" stroke-width="0.8"/>
<line x1="39.30" y1="686.95" x2="51.40" y2="686.95" stroke="#000" stroke-width="0.8"/>
<line x1="651.30" y1="686.95" x2="639.20" y2="686.95" stroke="#000" stroke-width="0.8"/>
<line x1="39.30" y1="667.51" x2="45.30" y2="667.51" stroke="#000" stroke-width="0.8"/>
<line x1="651.30" y1="667.51" x2="645.30" y2="667.51" stroke="#000" stroke-width="0.8"/>
<line x1="39.30" y1="648.06" x2="45.30" y2="648.06" stroke="#000" stroke-width="0.8"/>
<line x1="651.30" y1="648.06" x2="645.30" y2="648.06" stroke="#000" stroke-width="0.8"/>
<line x1="39.30" y1="628.62" x2="45.30" y2="628.62" stroke="#000" stroke-width="0.8"/>
<line x1="651.30" y1="628.62" x2="645.30" y2="628.62" stroke="#000" stroke-width="0.8"/>
<line x1="39.30" y1="609.18" x2="51.40" y2="609.18" stroke="#000" stroke-width="0.8"/>
<line x1="651.30" y1="609.18" x2="639.20" y2="609.18" stroke="#000" stroke-width="0.8"/>
<line x1="39.30" y1="589.73" x2="45.30" y2="589.73" stroke="#000" stroke-width="0.8"/>
<line x1="651.30" y1="589.73" x2="645.30" y2="589.73" stroke="#000" stroke-width="0.8"/>
<line x1="39.30" y1="570.29" x2="45.30" y2="570.29" stroke="#000" stroke-width="0.8"/>
<line x1="651.30" y1="570.29" x2="645.30" y2="570.29" stroke="#000" stroke-width="0.8"/>
<line x1="39.30" y1="550.84" x2="45.30" y2="550.84" stroke="#000" stroke-width="0.8"/>
<line x1="651.30" y1="550.84" x2="645.30" y2="550.84" stroke="#000" stroke-width="0.8"/>
<line x1="39.30" y1="531.40" x2="51.40" y2="531.40" stroke="#000" stroke-width="0.8"/>
<line x1="651.30" y1="531.40" x2="639.20" y2="531.40" stroke="#000" stroke-width="0.8"/>
<text x="0" y="0" font-family="Liberation Sans, sans-serif" font-size="13.7" text-anchor="middle" fill="#000" transform="translate(122.62 33.00) scale(1.0 1.08)">20</text>
<text x="0" y="0" font-family="Liberation Sans, sans-serif" font-size="13.7" text-anchor="middle" fill="#000" transform="translate(206.13 33.00) scale(1.0 1.08)">40</text>
<text x="0" y="0" font-family="Liberation Sans, sans-serif" font-size="13.7" text-anchor="middle" fill="#000" transform="translate(289.65 33.00) scale(1.0 1.08)">60</text>
<text x="0" y="0" font-family="Liberation Sans, sans-serif" font-size="13.7" text-anchor="middle" fill="#000" transform="translate(373.16 33.00) scale(1.0 1.08)">80</text>
<text x="0" y="0" font-family="Liberation Sans, sans-serif" font-size="13.7" text-anchor="middle" fill="#000" transform="translate(456.68 33.00) scale(1.0 1.08)">100</text>
<text x="0" y="0" font-family="Liberation Sans, sans-serif" font-size="13.7" text-anchor="middle" fill="#000" transform="translate(540.20 33.00) scale(1.0 1.08)">120</text>
<text x="0" y="0" font-family="Liberation Sans, sans-serif" font-size="13.7" text-anchor="middle" fill="#000" transform="translate(623.71 33.00) scale(1.0 1.08)">140</text>
<text x="0" y="0" font-family="Liberation Sans, sans-serif" font-size="13.7" text-anchor="middle" fill="#000" transform="translate(345.20 21.60) scale(1.0 1.08)">r (pixels)</text>
<text x="0" y="0" font-family="Liberation Sans, sans-serif" font-size="13.7" text-anchor="middle" fill="#000" transform="translate(38.85 741.90) scale(1.0 1.08)">0</text>
<text x="0" y="0" font-family="Liberation Sans, sans-serif" font-size="13.7" text-anchor="middle" fill="#000" transform="translate(144.46 741.90) scale(1.0 1.08)">10</text>
<text x="0" y="0" font-family="Liberation Sans, sans-serif" font-size="13.7" text-anchor="middle" fill="#000" transform="translate(250.07 741.90) scale(1.0 1.08)">20</text>
<text x="0" y="0" font-family="Liberation Sans, sans-serif" font-size="13.7" text-anchor="middle" fill="#000" transform="translate(355.68 741.90) scale(1.0 1.08)">30</text>
<text x="0" y="0" font-family="Liberation Sans, sans-serif" font-size="13.7" text-anchor="middle" fill="#000" transform="translate(461.29 741.90) scale(1.0 1.08)">40</text>
<text x="0" y="0" font-family="Liberation Sans, sans-serif" font-size="13.7" text-anchor="middle" fill="#000" transform="translate(566.90 741.90) scale(1.0 1.08)">50</text>
<text x="0" y="0" font-family="Liberation Sans, sans-serif" font-size="13.7" text-anchor="middle" fill="#000" transform="translate(345.70 754.70) scale(1.0 1.08)">r (arcsec)</text>
<text x="0" y="0" font-family="Liberation Sans, sans-serif" font-size="13.7" text-anchor="middle" fill="#000" transform="translate(33.60 44.05) rotate(-90) scale(1.05 1.11)">−2</text>
<text x="0" y="0" font-family="Liberation Sans, sans-serif" font-size="13.7" text-anchor="middle" fill="#000" transform="translate(33.60 117.77) rotate(-90) scale(1.05 1.11)">0</text>
<text x="0" y="0" font-family="Liberation Sans, sans-serif" font-size="13.7" text-anchor="middle" fill="#000" transform="translate(33.60 193.54) rotate(-90) scale(1.05 1.11)">2</text>
<text x="0" y="0" font-family="Liberation Sans, sans-serif" font-size="13.7" text-anchor="middle" fill="#000" transform="translate(33.60 269.30) rotate(-90) scale(1.05 1.11)">4</text>
<text x="0" y="0" font-family="Liberation Sans, sans-serif" font-size="13.7" text-anchor="middle" fill="#000" transform="translate(33.60 345.07) rotate(-90) scale(1.05 1.11)">6</text>
<text x="0" y="0" font-family="Liberation Sans, sans-serif" font-size="13.7" text-anchor="middle" fill="#000" transform="translate(33.60 420.83) rotate(-90) scale(1.05 1.11)">8</text>
<text x="0" y="0" font-family="Liberation Sans, sans-serif" font-size="13.7" text-anchor="middle" fill="#000" transform="translate(33.60 498.65) rotate(-90) scale(1.05 1.11)">10</text>
<text x="0" y="0" font-family="Liberation Sans, sans-serif" font-size="13.7" text-anchor="middle" fill="#000" transform="translate(33.60 528.70) rotate(-90) scale(1.05 1.11)">1.6</text>
<text x="0" y="0" font-family="Liberation Sans, sans-serif" font-size="13.7" text-anchor="middle" fill="#000" transform="translate(33.60 606.48) rotate(-90) scale(1.05 1.11)">1.2</text>
<text x="0" y="0" font-family="Liberation Sans, sans-serif" font-size="13.7" text-anchor="middle" fill="#000" transform="translate(33.60 684.25) rotate(-90) scale(1.05 1.11)">0.8</text>
<text x="0" y="0" font-family="Liberation Sans, sans-serif" font-size="13.7" text-anchor="middle" fill="#000" transform="translate(330.65 83.80) scale(1.0 1.08)">PSF<tspan font-size="8.85" dy="4.3">V,0m</tspan><tspan dy="-4.3" font-size="0.1"> </tspan><tspan font-size="15.5" dy="5.2" fill="#222">*</tspan><tspan dy="-5.2" font-size="0.1"> </tspan><tspan font-size="14.5">μ</tspan><tspan font-size="8.85" dy="4.3">g</tspan><tspan dy="-4.3" font-size="0.1"> </tspan> / PSF<tspan font-size="8.85" dy="4.3">V,3m</tspan><tspan dy="-4.3" font-size="0.1"> </tspan></text>
<text x="0" y="0" font-family="Liberation Sans, sans-serif" font-size="13.7" text-anchor="middle" fill="#000" transform="translate(330.65 104.50) scale(1.0 1.08)">PSF<tspan font-size="8.85" dy="4.3">I,0m</tspan><tspan dy="-4.3" font-size="0.1"> </tspan><tspan font-size="15.5" dy="5.2" fill="#222">*</tspan><tspan dy="-5.2" font-size="0.1"> </tspan><tspan font-size="14.5">μ</tspan><tspan font-size="8.85" dy="4.3">i</tspan><tspan dy="-4.3" font-size="0.1"> </tspan> / PSF<tspan font-size="8.85" dy="4.3">I,3m</tspan><tspan dy="-4.3" font-size="0.1"> </tspan></text>
<rect x="400.3" y="80.47" width="43.4" height="2.0" fill="none" stroke="#0000ff" stroke-width="0.6"/>
<rect x="400.3" y="101.48" width="43.4" height="2.0" fill="none" stroke="#ff0000" stroke-width="0.6"/>
<text x="0" y="0" font-family="Liberation Sans, sans-serif" font-size="13.7" text-anchor="end" fill="#000" transform="translate(567.60 83.85) scale(1.0 1.08)"><tspan font-size="14.5">μ</tspan><tspan font-size="8.85" dy="4.3">g</tspan><tspan dy="-4.3" font-size="0.1"> </tspan></text>
<path d="M578.00,81.45 L621.10,81.45" fill="none" stroke="#0000ff" stroke-width="2.6" />
<text x="0" y="0" font-family="Liberation Sans, sans-serif" font-size="13.7" text-anchor="end" fill="#000" transform="translate(567.60 104.60) scale(1.0 1.08)">PSF<tspan font-size="8.85" dy="4.3">V,0m</tspan><tspan dy="-4.3" font-size="0.1"> </tspan><tspan font-size="15.5" dy="5.2" fill="#222">*</tspan><tspan dy="-5.2" font-size="0.1"> </tspan><tspan font-size="14.5">μ</tspan><tspan font-size="8.85" dy="4.3">g</tspan><tspan dy="-4.3" font-size="0.1"> </tspan></text>
<path d="M578.00,102.20 L621.10,102.20" fill="none" stroke="#0000ff" stroke-width="1.25" />
<text x="0" y="0" font-family="Liberation Sans, sans-serif" font-size="13.7" text-anchor="end" fill="#000" transform="translate(567.60 125.40) scale(1.0 1.08)">PSF<tspan font-size="8.85" dy="4.3">V,3m</tspan><tspan dy="-4.3" font-size="0.1"> </tspan><tspan font-size="15.5" dy="5.2" fill="#222">*</tspan><tspan dy="-5.2" font-size="0.1"> </tspan><tspan font-size="14.5">μ</tspan><tspan font-size="8.85" dy="4.3">g</tspan><tspan dy="-4.3" font-size="0.1"> </tspan></text>
<path d="M578.00,123.00 L621.10,123.00" fill="none" stroke="#0000ff" stroke-width="1.45" stroke-dasharray="2.4 4 13.3 4.7" />
<text x="0" y="0" font-family="Liberation Sans, sans-serif" font-size="13.7" text-anchor="end" fill="#000" transform="translate(565.50 146.20) scale(1.0 1.08)"><tspan font-size="14.5">μ</tspan><tspan font-size="8.85" dy="4.3">i</tspan><tspan dy="-4.3" font-size="0.1"> </tspan></text>
<path d="M578.00,143.80 L621.10,143.80" fill="none" stroke="#ff0000" stroke-width="2.6" />
<text x="0" y="0" font-family="Liberation Sans, sans-serif" font-size="13.7" text-anchor="end" fill="#000" transform="translate(565.50 166.90) scale(1.0 1.08)">PSF<tspan font-size="8.85" dy="4.3">I,0m</tspan><tspan dy="-4.3" font-size="0.1"> </tspan><tspan font-size="15.5" dy="5.2" fill="#222">*</tspan><tspan dy="-5.2" font-size="0.1"> </tspan><tspan font-size="14.5">μ</tspan><tspan font-size="8.85" dy="4.3">i</tspan><tspan dy="-4.3" font-size="0.1"> </tspan></text>
<path d="M578.00,164.50 L621.10,164.50" fill="none" stroke="#ff0000" stroke-width="1.25" />
<text x="0" y="0" font-family="Liberation Sans, sans-serif" font-size="13.7" text-anchor="end" fill="#000" transform="translate(565.50 187.80) scale(1.0 1.08)">PSF<tspan font-size="8.85" dy="4.3">I,3m</tspan><tspan dy="-4.3" font-size="0.1"> </tspan><tspan font-size="15.5" dy="5.2" fill="#222">*</tspan><tspan dy="-5.2" font-size="0.1"> </tspan><tspan font-size="14.5">μ</tspan><tspan font-size="8.85" dy="4.3">i</tspan><tspan dy="-4.3" font-size="0.1"> </tspan></text>
<path d="M578.00,185.40 L621.10,185.40" fill="none" stroke="#ff0000" stroke-width="1.45" stroke-dasharray="2.4 4 13.3 4.7" />
<text x="0" y="0" font-family="Liberation Sans, sans-serif" font-size="13.7" text-anchor="middle" fill="#000" transform="translate(15.00 275.00) rotate(-90) scale(1.0 1.09)"><tspan font-size="14.5">μ</tspan><tspan font-size="8.85" dy="4.3">g,i</tspan><tspan dy="-4.3" font-size="0.1"> </tspan>(r)−<tspan font-size="14.5">μ</tspan><tspan font-size="8.85" dy="4.3">g</tspan><tspan dy="-4.3" font-size="0.1"> </tspan>(r=0) (mag arcsec<tspan font-size="8.85" dy="-5.5">−2</tspan><tspan dy="5.5" font-size="0.1"> </tspan>)</text>
<text x="0" y="0" font-family="Liberation Sans, sans-serif" font-size="13.7" text-anchor="middle" fill="#000" transform="translate(15.00 620.60) rotate(-90) scale(1.04 1.09)">g−i (mag arcsec<tspan font-size="8.85" dy="-5.5">−2</tspan><tspan dy="5.5" font-size="0.1"> </tspan>)</text>
<text x="0" y="0" font-family="Liberation Sans, sans-serif" font-size="13.7" text-anchor="middle" fill="#000" transform="translate(59.70 499.00) scale(1.0 1.08)">a)</text>
<text x="0" y="0" font-family="Liberation Sans, sans-serif" font-size="13.7" text-anchor="middle" fill="#000" transform="translate(623.00 547.00) scale(1.0 1.08)">b)</text>
</svg>
</body></html>
